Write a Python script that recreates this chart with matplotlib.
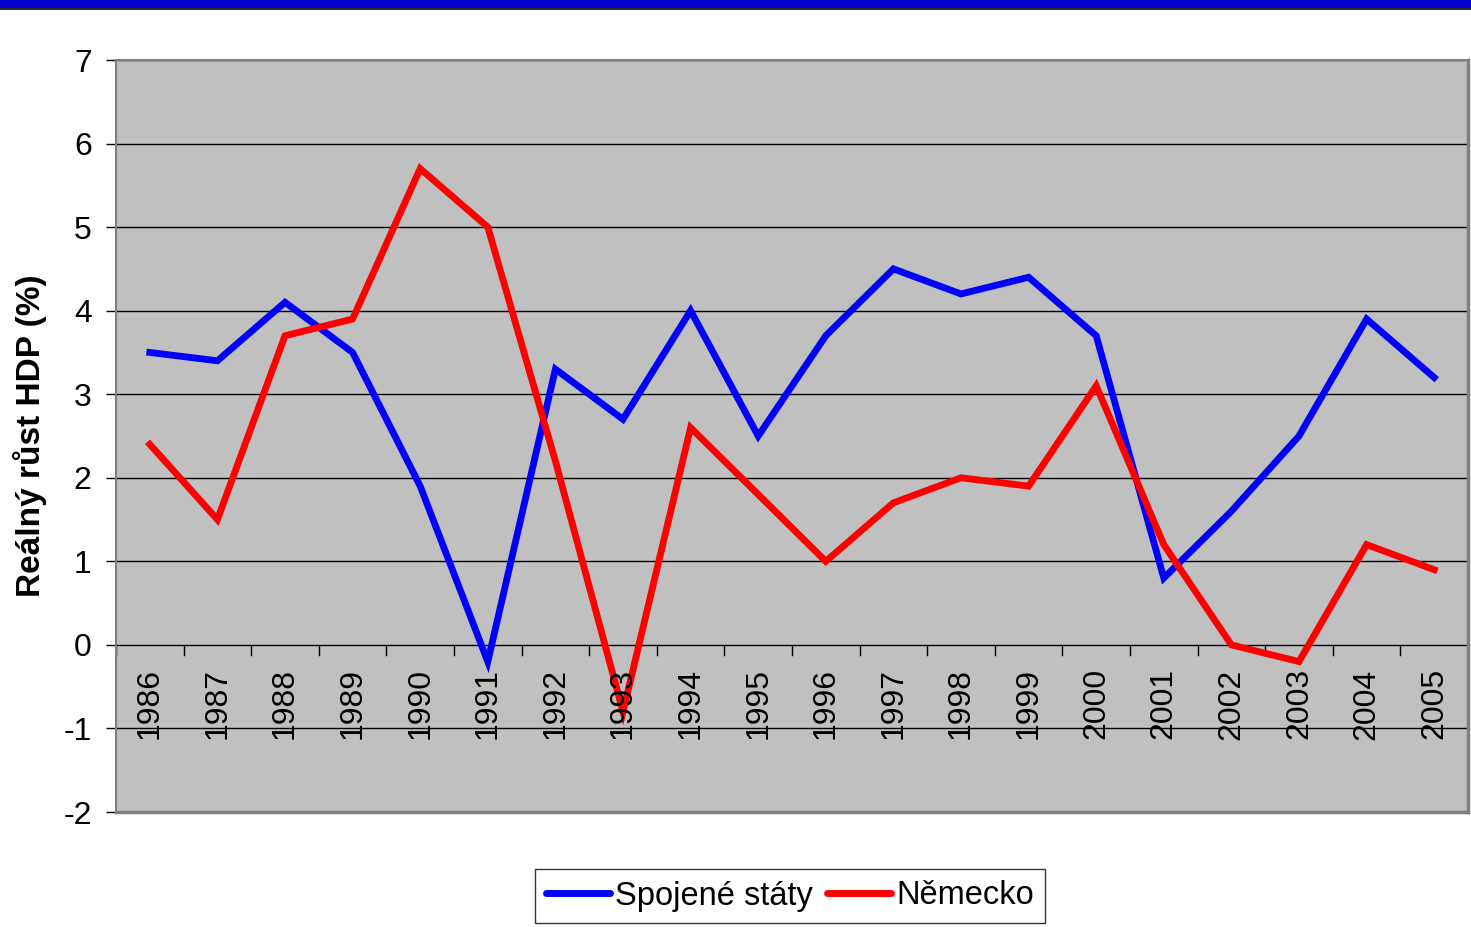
import matplotlib
matplotlib.use("Agg")
import matplotlib.pyplot as plt
from matplotlib.patches import Rectangle
from matplotlib.lines import Line2D

years = ["1986", "1987", "1988", "1989", "1990", "1991", "1992", "1993", "1994", "1995",
         "1996", "1997", "1998", "1999", "2000", "2001", "2002", "2003", "2004", "2005"]
usa = [3.5, 3.4, 4.1, 3.5, 1.9, -0.2, 3.3, 2.7, 4.0, 2.5,
       3.7, 4.5, 4.2, 4.4, 3.7, 0.8, 1.6, 2.5, 3.9, 3.2]
germany = [2.4, 1.5, 3.7, 3.9, 5.7, 5.0, 2.2, -0.8, 2.6, 1.8,
           1.0, 1.7, 2.0, 1.9, 3.1, 1.2, 0.0, -0.2, 1.2, 0.9]
series_names = ["Spojené státy", "Německo"]
y_ticks = [-2, -1, 0, 1, 2, 3, 4, 5, 6, 7]
y_label = "Reálný růst HDP (%)"

plt.rcParams['font.family'] = ['Liberation Sans', 'DejaVu Sans']

fig = plt.figure(figsize=(14.71, 9.27), dpi=100)
ax = fig.add_axes([116/1471, 1 - 812/927, (1468-116)/1471, (812-60)/927])

# top blue banner
fig.patches.append(Rectangle((0, 1 - 8/927), 1, 8/927, transform=fig.transFigure,
                             facecolor="#0000CC", edgecolor="none", zorder=0))
fig.lines.append(Line2D([0, 1], [1 - 9/927, 1 - 9/927], transform=fig.transFigure,
                        color="black", lw=1.2))

ax.set_facecolor("#C0C0C0")
x = list(range(len(years)))
ax.set_xlim(-0.5, len(years) - 0.5)
ax.set_ylim(-2, 7)

for yv in y_ticks:
    ax.axhline(yv, color="black", lw=1.0, zorder=1)

ax.plot(x, usa, color="#0000FF", lw=4.9, solid_joinstyle="miter", zorder=3, label=series_names[0])
ax.plot(x, germany, color="#FF0000", lw=4.9, solid_joinstyle="miter", zorder=3, label=series_names[1])

ax.set_yticks(y_ticks)
ax.set_yticklabels([str(v) for v in y_ticks], fontsize=23)
ax.tick_params(axis="y", length=7, width=1, pad=10.5)

ax.set_xticks([])
# x axis at zero with boundary ticks
for i in range(len(years) + 1):
    ax.plot([i - 0.5, i - 0.5], [0, -0.12], color="black", lw=1, zorder=2, clip_on=False)
for i, yr in enumerate(years):
    ax.text(i, -0.28, yr, rotation=90, ha="center", va="top", fontsize=23, zorder=4)

for side in ["left", "top"]:
    ax.spines[side].set_color("#808080")
    ax.spines[side].set_linewidth(1.5)
for side in ["right", "bottom"]:
    ax.spines[side].set_color("#808080")
    ax.spines[side].set_linewidth(2.5)

ax.set_ylabel(y_label, fontsize=24, fontweight="bold", labelpad=12)

leg = fig.legend(loc="center", bbox_to_anchor=(790/1471, 1 - 896/927), ncol=2,
                 fontsize=23.5, frameon=True, fancybox=False, edgecolor="black",
                 handlelength=1.95, handletextpad=0.15, columnspacing=0.45,
                 borderpad=0.35, borderaxespad=0)
leg.get_frame().set_linewidth(1.0)
for h in leg.get_lines():
    h.set_linewidth(5)
    h.set_solid_capstyle("round")

fig.savefig("out.png", dpi=100)
